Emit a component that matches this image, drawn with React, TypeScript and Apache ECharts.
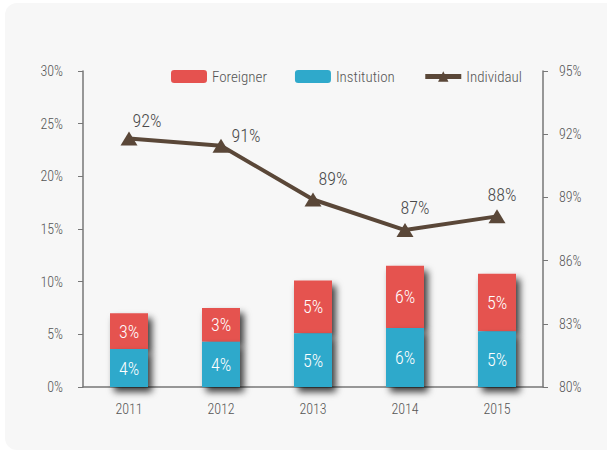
import React, { useEffect, useRef } from "react";
import * as echarts from "echarts";

const years = ["2011", "2012", "2013", "2014", "2015"];
const institution = [3.6, 4.3, 5.1, 5.6, 5.3];
const foreigner = [3.4, 3.2, 5.0, 5.9, 5.45];
const individual = [91.8, 91.45, 88.9, 87.45, 88.1];

// label placement (layout only)
const lineLabelOffsets: [number, number][] = [
  [18, 3],
  [25, 11],
  [20, 0],
  [10, -2],
  [5, -1],
];

const FONT = "'Roboto Condensed', 'Liberation Sans Narrow', 'DejaVu Sans Condensed', sans-serif";
const RED = "#e5524f";
const BLUE = "#2fa9cb";
const BROWN = "#5a4738";
const AXIS = "#777777";
const TEXT = "#555555";

export default function App() {
  const ref = useRef<HTMLDivElement>(null);
  useEffect(() => {
    if (!ref.current) return;
    const chart = echarts.init(ref.current, undefined, { renderer: "svg" });
    const barShadow = {
      shadowBlur: 7,
      shadowColor: "rgba(0,0,0,0.75)",
      shadowOffsetX: 4,
      shadowOffsetY: 5,
    };
    const barLabel = {
      show: true,
      position: "inside",
      color: "#ffffff",
      fontFamily: FONT,
      fontWeight: 300,
      fontSize: 18,
      formatter: (p: any) => Math.round(p.value) + "%",
    };
    chart.setOption({
      animation: false,
      backgroundColor: "#ffffff",
      textStyle: { fontFamily: FONT, fontWeight: 300 },
      graphic: [
        {
          type: "rect",
          z: -10,
          silent: true,
          shape: { x: 5, y: 3, width: 620, height: 447, r: 12 },
          style: { fill: "#f7f7f7" },
        },
      ],
      grid: { left: 83, right: 64, top: 71, bottom: 67 },
      legend: {
        top: 64,
        left: 166,
        itemWidth: 36,
        itemHeight: 13,
        itemGap: 28,
        data: [
          "Foreigner",
          "Institution",
          { name: "Individaul", lineStyle: { width: 5 } },
        ],
        textStyle: { fontFamily: FONT, fontWeight: 300, fontSize: 15, color: TEXT },
      },
      xAxis: {
        type: "category",
        data: years,
        axisLine: { lineStyle: { color: AXIS, width: 1.5 } },
        axisTick: { lineStyle: { color: AXIS }, length: 4 },
        axisLabel: { fontFamily: FONT, fontWeight: 300, fontSize: 14, color: TEXT, margin: 15 },
      },
      yAxis: [
        {
          type: "value",
          min: 0,
          max: 30,
          interval: 5,
          splitLine: { show: false },
          axisLine: { show: true, lineStyle: { color: AXIS, width: 1.5 } },
          axisTick: { show: true, length: 5, lineStyle: { color: AXIS } },
          axisLabel: { formatter: "{value}%", fontFamily: FONT, fontWeight: 300, fontSize: 14, color: TEXT, margin: 20 },
        },
        {
          type: "value",
          min: 80,
          max: 95,
          interval: 3,
          splitLine: { show: false },
          axisLine: { show: true, lineStyle: { color: AXIS, width: 1.5 } },
          axisTick: { show: true, length: 5, lineStyle: { color: AXIS } },
          axisLabel: { formatter: "{value}%", fontFamily: FONT, fontWeight: 300, fontSize: 14, color: TEXT, margin: 16 },
        },
      ],
      series: [
        {
          name: "Institution",
          type: "bar",
          stack: "s",
          z: 3,
          barWidth: 38,
          data: institution,
          itemStyle: { color: BLUE, ...barShadow },
          label: barLabel,
        },
        {
          name: "Foreigner",
          type: "bar",
          stack: "s",
          z: 2,
          barWidth: 38,
          data: foreigner,
          itemStyle: { color: RED, ...barShadow },
          label: barLabel,
        },
        {
          name: "Individaul",
          type: "line",
          yAxisIndex: 1,
          z: 5,
          data: individual.map((v, i) => ({
            value: v,
            label: { offset: lineLabelOffsets[i] },
          })),
          symbol: "triangle",
          symbolSize: [17, 14],
          lineStyle: { color: BROWN, width: 4 },
          itemStyle: { color: BROWN },
          label: {
            show: true,
            position: "top",
            color: "#4a4a4a",
            fontFamily: FONT,
            fontWeight: 300,
            fontSize: 18,
            formatter: (p: any) => Math.round(p.value) + "%",
          },
        },
      ],
    });
    return () => chart.dispose();
  }, []);
  return (
    <div
      ref={ref}
      style={{ position: "fixed", left: 0, top: 0, width: 607, height: 454 }}
    />
  );
}
